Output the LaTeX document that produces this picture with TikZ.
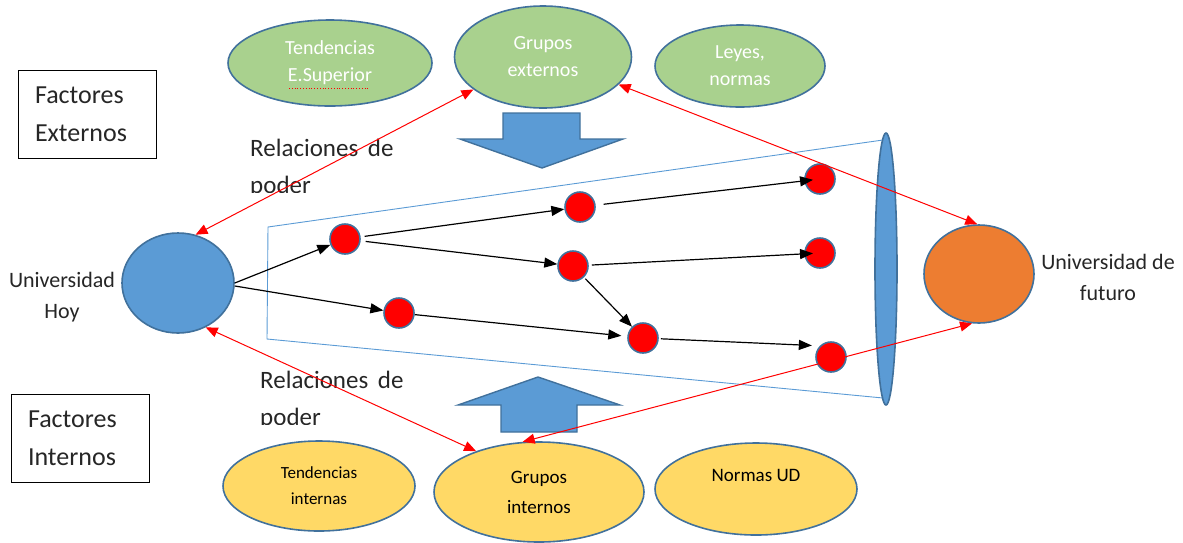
\documentclass[tikz,border=0pt]{standalone}
\usepackage{fontspec}
\setmainfont{Carlito}
\usetikzlibrary{shapes.geometric,arrows.meta}
\definecolor{verde}{HTML}{A9D18E}
\definecolor{amarillo}{HTML}{FFD966}
\definecolor{azul}{HTML}{5B9BD5}
\definecolor{borde}{HTML}{41719C}
\definecolor{naranja}{HTML}{ED7D31}
\definecolor{texto}{HTML}{262626}
\begin{document}
\begin{tikzpicture}[x=1pt,y=-1pt,
    ext/.style={ellipse, draw=borde, line width=1.6pt, fill=verde, text=white,
      inner sep=0pt, align=center, font=\fontsize{20}{27}\selectfont},
    int/.style={ellipse, draw=borde, line width=1.6pt, fill=amarillo, text=black,
      inner sep=0pt, align=center},
    caja/.style={draw, line width=1pt, minimum width=138pt, minimum height=88pt,
      text width=104pt, inner xsep=17pt, align=left, text=texto,
      font=\fontsize{26}{38}\selectfont},
    relac/.style={anchor=base west, inner sep=0pt, align=left, text=texto,
      font=\fontsize{25}{37}\selectfont},
    etiq/.style={inner sep=0pt, align=center, text=texto,
      font=\fontsize{22}{31}\selectfont},
    punto/.style={circle, draw=borde, line width=1.6pt, fill=red,
      minimum size=30pt, inner sep=0pt},
    flecha/.style={-{Triangle[length=13pt,width=10pt]}, line width=1.2pt},
    rel/.style={{Triangle[length=12pt,width=10pt]}-{Triangle[length=12pt,width=10pt]},
      red, line width=1pt}]
  \useasboundingbox (0,0) rectangle (1183,542);

  \node (fext) [caja] at (87,114) {Factores\\Externos};
  \node (fint) [caja] at (80,438) {Factores\\Internos};

  \node (tes)  [ext, minimum width=204pt, minimum height=86pt] at (330,63) {Tendencias\\E.Superior};
  \node (gext) [ext, minimum width=177pt, minimum height=102pt] at (543,57) {Grupos\\externos};
  \node (leyes) [ext, minimum width=170pt, minimum height=82pt] at (740,66) {Leyes,\\normas};
  \draw[red, dotted, line width=0.8pt] (289,88) -- (370,88);

  \node (tint) [int, minimum width=192pt, minimum height=90pt,
    font=\fontsize{17}{26}\selectfont] at (319,486) {Tendencias\\internas};
  \node (gint) [int, minimum width=210pt, minimum height=100pt,
    font=\fontsize{19}{30}\selectfont] at (539,492) {Grupos\\internos};
  \node (nud) [int, minimum width=202pt, minimum height=92pt,
    font=\fontsize{19}{28}\selectfont] at (756,489) {Normas UD\\\mbox{}};

  \draw[fill=azul, draw=borde, line width=1.4pt]
    (503,113) -- (580,113) -- (580,139) -- (623,139) -- (542,168)
    -- (460,139) -- (503,139) -- cycle;
  \draw[fill=azul, draw=borde, line width=1.4pt]
    (501,432) -- (577,432) -- (577,405) -- (620,405) -- (538,377)
    -- (458,405) -- (501,405) -- cycle;

  \begin{scope}
    \clip (240,120) rectangle (430,192);
    \node (rsup) [relac] at (250,193) {Relaciones\hspace{4pt} de\\poder};
  \end{scope}
  \begin{scope}
    \clip (250,350) rectangle (440,424);
    \node (rinf) [relac] at (260,425) {Relaciones\hspace{4pt} de\\poder};
  \end{scope}

  \draw[azul, line width=0.9pt] (883,140) -- (268,227) -- (267,339) -- (883,398);
  \node (lente) [ellipse, draw=borde, line width=1.6pt, fill=azul,
    minimum width=22pt, minimum height=272pt, inner sep=0pt] at (886,269) {};

  \node (hoy) [ellipse, draw=borde, line width=1.6pt, fill=azul,
    minimum width=112pt, minimum height=100pt] at (178,283) {};
  \node (fut) [ellipse, draw=borde, line width=1.6pt, fill=naranja,
    minimum width=110pt, minimum height=98pt] at (979,274) {};
  \node (thoy) [etiq] at (62,297) {Universidad\\Hoy};
  \node (tfut) [etiq] at (1108,277) {Universidad de\\futuro};

  \node (a) [punto] at (345,239) {};
  \node (b) [punto] at (580,207) {};
  \node (c) [punto] at (573,266) {};
  \node (d) [punto] at (399,313) {};
  \node (e) [punto] at (643,338) {};
  \node (f) [punto] at (820,179) {};
  \node (g) [punto] at (820,253) {};
  \node (h) [punto] at (831,357) {};

  \draw[flecha] (hoy.east) -- (a);
  \draw[flecha] (hoy.-3) -- (d);
  \draw[flecha, shorten <=4pt] (a) -- (b);
  \draw[flecha, shorten <=5pt] (a) -- (c);
  \draw[flecha, shorten <=8pt, shorten >=7pt] (b) -- (f.center);
  \draw[flecha, shorten <=3pt, shorten >=7pt] (c) -- (g.center);
  \draw[flecha, shorten <=2pt] (c) -- (e);
  \draw[flecha, shorten >=6pt] (d) -- (e);
  \draw[flecha, shorten <=2pt, shorten >=8pt] (e) -- (h.135);

  \draw[rel] (hoy.70) -- (gext.205);
  \draw[rel] (gext.-20) -- (fut.92);
  \draw[rel] (hoy.-58) -- (gint.147);
  \draw[rel] (gint.108) -- (fut.262);
\end{tikzpicture}
\end{document}
